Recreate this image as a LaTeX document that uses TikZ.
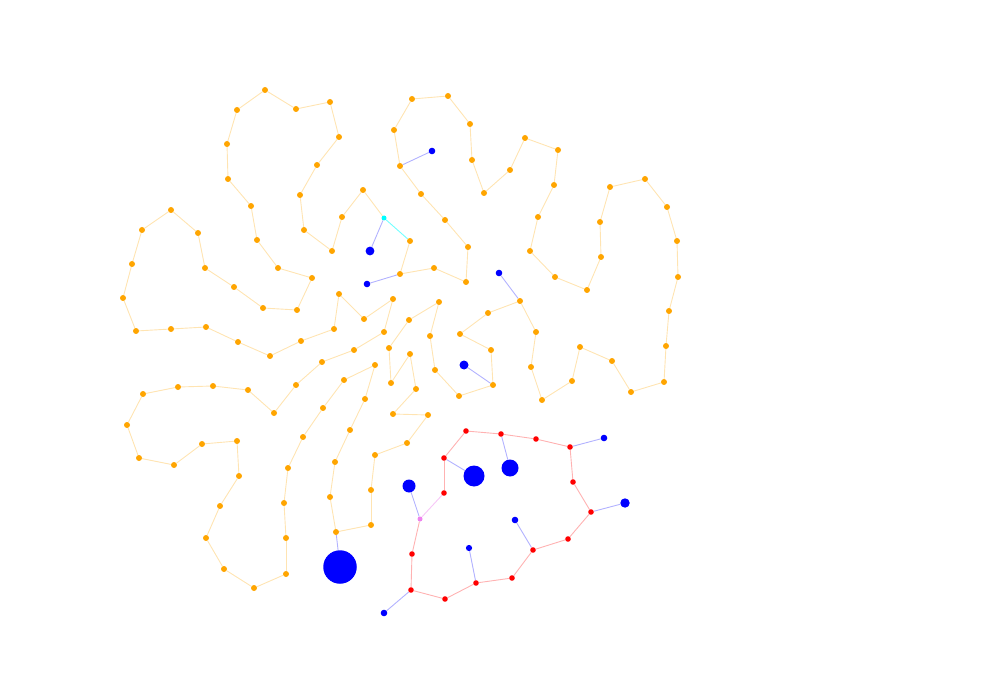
\documentclass[tikz,border=0pt]{standalone}
\usepackage{tikz}
\usetikzlibrary{backgrounds}
\definecolor{ornode}{HTML}{FFA500}
\definecolor{rdnode}{HTML}{FF0000}
\definecolor{blnode}{HTML}{0000FF}
\definecolor{cynode}{HTML}{00FFFF}
\definecolor{vinode}{HTML}{EE82EE}

\begin{document}
\begin{tikzpicture}[x=1pt, y=-1pt,
    dot/.style={circle, inner sep=0pt, minimum size=#1},
    odot/.style={dot=6pt, fill=ornode},
    rdot/.style={dot=5.6pt, fill=rdnode},
    bdot/.style={dot=#1, fill=blnode},
    cdot/.style={dot=5pt, fill=cynode},
    vdot/.style={dot=5pt, fill=vinode},
    oedge/.style={draw=ornode!30, line width=0.9pt},
    redge/.style={draw=rdnode!30, line width=0.9pt},
    bedge/.style={draw=blnode!30, line width=0.9pt},
    cedge/.style={draw=cynode!55, line width=0.9pt},
    vedge/.style={draw=vinode!45, line width=0.9pt}]
  \useasboundingbox (0,0) rectangle (1000,700);

  % orange ring
  \foreach \x/\y [count=\i] in {301/341, 270/356, 238/342, 206/327, 171/329, 136/331, 123/298, 132/264,
      142/230, 171/210, 198/233, 205/268, 234/287, 263/308, 297/310, 312/278, 278/268, 257/240,
      251/206, 228/179, 227/144, 237/110, 265/90, 296/109, 330/102, 339/137, 317/165, 300/195,
      304/230, 332/251, 342/217, 363/190, 410/241, 400/274, 434/268, 466/282, 468/247, 445/220,
      421/194, 400/166, 394/130, 412/99, 448/96, 470/124, 472/160, 484/193, 510/170, 525/138,
      558/150, 554/185, 538/217, 530/251, 555/277, 587/290, 601/257, 600/222, 610/187, 645/179,
      667/207, 677/241, 678/277, 669/311, 666/346, 664/382, 631/392, 612/361, 580/347, 572/381,
      542/400, 531/367, 536/332, 520/301, 488/313, 460/334, 491/350, 493/385, 459/396, 435/370,
      430/336, 439/302, 409/320, 389/348, 391/383, 410/354, 416/389, 393/414, 428/415, 407/443,
      375/455, 371/490, 371/525, 336/532, 330/497, 335/462, 350/430, 365/399, 375/365, 344/380,
      323/408, 303/437, 288/468, 284/503, 286/538, 286/574, 254/588, 224/569, 206/538, 220/506,
      239/476, 237/441, 202/444, 174/465, 139/458, 127/425, 143/394, 178/387, 213/386, 248/390,
      274/413, 296/385, 322/362, 354/350, 384/332, 393/299, 364/319, 339/294, 334/329}
    \node[odot] (o\i) at (\x,\y) {};
  \node[cdot] (c) at (384,218) {};

  % red ring
  \foreach \x/\y [count=\i] in {466/431, 501/434, 536/439, 570/447, 573/482, 591/512, 568/539,
      533/550, 512/578, 476/583, 445/599, 411/590, 412/554, 444/493, 444/458}
    \node[rdot] (r\i) at (\x,\y) {};
  \node[vdot] (v) at (420,519) {};

  % blue leaves
  \foreach \x/\y/\s [count=\k] in {432/151/6.6, 370/251/8.8, 367/284/6.6, 499/273/6.6, 464/365/9,
      340/567/33.5, 474/476/21, 510/468/17, 604/438/6.6, 625/503/9.4, 515/520/6.6, 469/548/6.2,
      384/613/6.6, 409/486/13}
    \node[bdot=\s pt] (b\k) at (\x,\y) {};

  \begin{scope}[on background layer]
    \foreach \i [remember=\i as \j (initially 127)] in {1,...,127}
      {\ifnum\i=33 \else \draw[oedge] (o\j) -- (o\i); \fi}
    \draw[oedge] (o32) -- (c);
    \draw[cedge] (c) -- (o33);
    \foreach \i [remember=\i as \j (initially 15)] in {1,...,15}
      {\ifnum\i=14 \else \draw[redge] (r\j) -- (r\i); \fi}
    \draw[redge] (r13) -- (v);
    \draw[vedge] (v) -- (r14);
    \foreach \a [count=\k] in {o40, c, o34, o72, o76, o92, r15, r2, r4, r6, r8, r10, r12, v}
      \draw[bedge] (\a) -- (b\k);
  \end{scope}
\end{tikzpicture}
\end{document}
